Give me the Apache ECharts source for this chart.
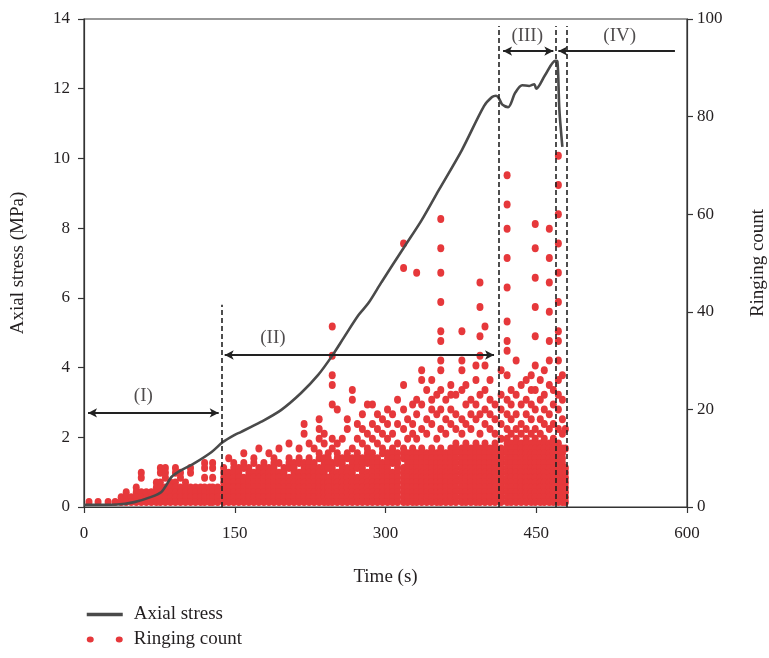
<!DOCTYPE html>
<html>
<head>
<meta charset="utf-8">
<script src="https://cdn.jsdelivr.net/npm/echarts@6/dist/echarts.min.js"></script>
<style>html,body{margin:0;padding:0;background:#fff}#c{width:769px;height:658px}</style>
</head>
<body>
<div id="c"></div>
<script>
// ---- Data ----
const xTicks = [0, 150, 300, 450, 600];
const stressTimes  = [0,33,50,67,77,82,87,97,110,127,138,150,156,176,196,216,233,246,259,273,283,296,318,336,353,376,398,406,410,413,416,422,429,436,443,448,450,459,469,471,473,476];
const stressValues = [0.06,0.07,0.14,0.29,0.43,0.63,0.86,1.06,1.26,1.58,1.86,2.07,2.15,2.44,2.78,3.27,3.79,4.3,4.88,5.5,5.85,6.45,7.43,8.23,9.09,10.24,11.5,11.76,11.8,11.72,11.55,11.47,11.88,12.1,12.08,12.13,12.0,12.4,12.8,12.79,11.4,10.33];

// Ringing count: each row = [time, count, count, ...]
const ringStageI = [
[5,1],[14,1],[24,1],[31,1],[37,2,1],[42,3,2,1],[47,2,1],[52,4,3,2,1],[57,7,6,3,2,1],[62,3,2,1],[67,3,2,1],
[72,5,4,3,2,1],[76,8,7,5,4,3,2,1],[81,8,7,6,4,3,2,1],[86,5,4,3,2,1],[91,8,7,5,4,3,2,1],[96,7,6,4,3,2,1],
[101,5,4,3,2,1],[106,8,7,4,3,2,1],[111,4,3,2,1],[116,4,3,2,1],[120,9,8,6,4,3,2,1],[125,4,3,2,1],
[128,9,8,6,4,3,2,1],[133,4,3,2,1]
];
const ringStageII = [
[139,8,7,6,5,4,3,2,1],[144,7,6,5,4,3,2,1,10],[149,9,8,7,6,5,4,3,2,1],[154,8,7,6,5,4,3,2,1],
[159,9,8,6,5,4,3,2,1,11],[164,8,7,6,5,4,3,2,1],[169,10,9,7,6,5,4,3,2,1],[174,8,7,6,5,4,3,2,1,12],
[179,9,8,7,6,5,4,3,2,1],[184,8,7,6,5,4,3,2,1,11],[189,10,9,8,7,6,5,4,3,2,1],[194,9,7,6,5,4,3,2,1,12],
[199,8,7,6,5,4,3,2,1],[204,10,9,8,6,5,4,3,2,1,13],[209,9,8,7,6,5,4,3,2,1],[214,10,9,7,6,5,4,3,2,1,12],
[219,9,8,7,6,5,4,3,2,1,15,17],[224,10,9,8,7,6,5,4,3,2,1,13],[229,9,8,7,6,5,4,3,2,1,12],
[234,11,10,8,7,6,5,4,3,2,1,14,16,18],[239,10,9,8,7,6,5,4,3,2,1,13,15],
[247,9,8,7,6,5,4,3,2,1,12,14,21,25,27,31,37],[243,11,10,9,8,6,5,4,3,2,1],
[252,11,10,9,7,6,5,4,3,2,1,13,20],[257,10,9,8,7,6,5,4,3,2,1,14],[262,11,10,8,7,6,5,4,3,2,1,16,18],
[267,10,9,8,7,6,5,4,3,2,1,12,22,24],[272,11,10,9,8,6,5,4,3,2,1,14,17],[277,10,9,8,7,6,5,4,3,2,1,13,16,19],
[282,12,11,10,9,7,6,5,4,3,2,1,15,21],[287,11,10,9,8,7,6,5,4,3,2,1,14,17,21],[292,10,9,8,7,6,5,4,3,2,1,13,16,19],
[297,12,11,9,8,7,6,5,4,3,2,1,15,18],[302,11,10,9,8,7,6,5,4,3,2,1,14,20,17],[307,12,11,10,9,7,6,5,4,3,2,1,15,19],
[312,11,10,9,8,7,6,5,4,3,2,1,13,17,22],[318,12,11,10,8,7,6,5,4,3,2,1,16,20,25,49,54],[322,11,10,9,8,7,6,5,4,3,2,1,14,18],
[327,12,11,10,9,8,7,6,5,4,3,2,1,15,21,17],[331,11,10,9,8,7,6,5,4,3,2,1,14,19,22,48],
[336,12,11,10,9,8,7,6,5,4,3,2,1,16,21,26,28],[341,11,10,9,8,7,6,5,4,3,2,1,15,18,24],
[346,12,11,10,9,8,7,6,5,4,3,2,1,17,20,26,22],[351,11,10,9,8,7,6,5,4,3,2,1,14,19,23],
[355,12,11,10,9,8,7,6,5,4,3,2,1,16,20,24,28,30,34,36,42,48,53,59],[360,11,10,9,8,7,6,5,4,3,2,1,15,18,22],
[365,12,11,10,9,8,7,6,5,4,3,2,1,17,20,23,25],[370,13,12,11,10,9,8,7,6,5,4,3,2,1,16,19,23],
[376,12,11,10,9,8,7,6,5,4,3,2,1,15,18,24,28,30,36],[380,13,12,11,10,9,8,7,6,5,4,3,2,1,17,21,25],
[385,12,11,10,9,8,7,6,5,4,3,2,1,16,19,22],[390,13,12,11,10,9,8,7,6,5,4,3,2,1,18,21,26,29],
[394,12,11,10,9,8,7,6,5,4,3,2,1,15,19,23,31,35,41,46],[399,13,12,11,10,9,8,7,6,5,4,3,2,1,17,20,24,29,37],
[404,12,11,10,9,8,7,6,5,4,3,2,1,16,19,22,26],[409,13,12,11,10,9,8,7,6,5,4,3,2,1,15,18,21]
];
const ringStageIII = [
[415,12,11,10,9,8,7,6,5,4,3,2,1,14,17,20,23,28],
[421,14,13,12,11,10,9,8,7,6,5,4,3,2,1,16,19,22,27,32,34,38,45,51,57,62,68],
[425,13,12,11,10,9,8,7,6,5,4,3,2,1,15,18,21,24],[430,14,13,12,11,10,9,8,7,6,5,4,3,2,1,16,19,23,30],
[435,13,12,11,10,9,8,7,6,5,4,3,2,1,15,17,21,25],[440,14,13,12,11,10,9,8,7,6,5,4,3,2,1,16,19,22,26],
[445,13,12,11,10,9,8,7,6,5,4,3,2,1,15,18,21,24,27],
[449,14,13,12,11,10,9,8,7,6,5,4,3,2,1,16,20,24,29,35,41,47,53,58],
[454,13,12,11,10,9,8,7,6,5,4,3,2,1,15,18,22,26],[458,14,13,12,11,10,9,8,7,6,5,4,3,2,1,17,20,23,28],
[463,13,12,11,10,9,8,7,6,5,4,3,2,1,16,19,25,30,34,40,46,51,57],[467,14,13,12,11,10,9,8,7,6,5,4,3,2,1,17,21,24],
[472,13,12,11,10,9,8,7,6,5,4,3,2,1,16,20,23,26,30,34,36,42,48,54,60,66,72],
[476,12,11,10,9,8,7,6,5,4,3,2,1,15,18,22,27],[479,8,7,6,5,4,3,2,1,12,16]
];

// Stage boundaries (time, s) and their dashed-line heights (MPa)
const stageBounds = [137, 413, 469, 480];
const stageBoundTops = [5.8, 13.8, 13.8, 13.8];
// Stage arrows: [startTime, endTime, stress level]
const stageArrows = [[4, 134, 2.7], [140, 408, 4.36], [417, 467, 13.08], [472, 588, 13.08]];
const stageNames = ['(I)', '(II)', '(III)', '(IV)'];
const stageLabelPos = [[59, 3.18], [188, 4.85], [441, 13.5], [533, 13.5]];

// ---- Build ----
const stressData = stressTimes.map((t, i) => [t, stressValues[i]]);
const ringData = [];
[ringStageI, ringStageII, ringStageIII].forEach(stage => stage.forEach(row => {
  for (let k = 1; k < row.length; k++) ringData.push([row[0], row[k]]);
}));

const FONT = '"Liberation Serif", "DejaVu Serif", serif';
const TXT = '#231f20';

const markLines = [];
stageBounds.forEach((t, i) => markLines.push([{coord: [t, 0]}, {coord: [t, stageBoundTops[i]]}]));
stageArrows.forEach((a, i) => markLines.push([
  {coord: [a[0], a[2]], symbol: 'arrow', symbolSize: [7, 9], lineStyle: {type: 'solid', width: 2, color: '#222'}},
  {coord: [a[1], a[2]], symbol: i === 3 ? 'none' : 'arrow', symbolSize: [7, 9]}
]));

const chart = echarts.init(document.getElementById('c'), null, {renderer: 'canvas'});
chart.setOption({
  animation: false,
  backgroundColor: '#fff',
  textStyle: {fontFamily: FONT, color: TXT},
  grid: {left: 84, right: 82, top: 19, bottom: 151, show: true, borderColor: '#333', borderWidth: 1.2,
         backgroundColor: 'transparent', containLabel: false, outerBoundsMode: 'none'},
  legend: {
    orient: 'vertical', left: 80, top: 600, itemWidth: 36, itemHeight: 7, itemGap: 6,
    textStyle: {fontFamily: FONT, fontSize: 19, color: TXT, padding: [0, 0, 0, 6]},
    data: [
      {name: 'Axial stress', itemStyle: {color: 'rgba(0,0,0,0)', borderWidth: 0}, lineStyle: {width: 3.5, color: '#4a4a4a'}},
      {name: 'Ringing count', icon: 'path://M0,3a3.5,3 0 1,0 7,0a3.5,3 0 1,0 -7,0zM29,3a3.5,3 0 1,0 7,0a3.5,3 0 1,0 -7,0z'}
    ]
  },
  xAxis: {
    type: 'value', min: xTicks[0], max: xTicks[xTicks.length - 1], interval: 150,
    name: 'Time (s)', nameLocation: 'middle', nameGap: 61,
    nameTextStyle: {fontFamily: FONT, fontSize: 19, color: TXT},
    axisLine: {lineStyle: {color: '#333', width: 1.2}},
    axisTick: {length: 6, lineStyle: {color: '#333', width: 1.2}},
    axisLabel: {fontFamily: FONT, fontSize: 17, color: TXT, margin: 18},
    splitLine: {show: false}
  },
  yAxis: [{
    type: 'value', min: 0, max: 14, interval: 2, position: 'left',
    name: 'Axial stress (MPa)', nameLocation: 'middle', nameGap: 56,
    nameTextStyle: {fontFamily: FONT, fontSize: 19, color: TXT},
    axisLine: {show: true, lineStyle: {color: '#333', width: 1.2}},
    axisTick: {show: true, length: 6, lineStyle: {color: '#333', width: 1.2}},
    axisLabel: {fontFamily: FONT, fontSize: 17, color: TXT, margin: 14},
    splitLine: {show: false}
  }, {
    type: 'value', min: 0, max: 100, interval: 20, position: 'right',
    name: 'Ringing count', nameLocation: 'middle', nameGap: 62,
    nameTextStyle: {fontFamily: FONT, fontSize: 19, color: TXT},
    axisLine: {show: true, lineStyle: {color: '#333', width: 1.2}},
    axisTick: {show: true, length: 6, lineStyle: {color: '#333', width: 1.2}},
    axisLabel: {fontFamily: FONT, fontSize: 17, color: TXT, margin: 10},
    splitLine: {show: false}
  }],
  series: [{
    name: 'Ringing count', type: 'scatter', yAxisIndex: 1, data: ringData,
    symbol: 'circle', symbolSize: [7, 8], itemStyle: {color: '#e6383b', opacity: 1}, silent: true, z: 2
  }, {
    name: 'Axial stress', type: 'line', yAxisIndex: 0, data: stressData,
    symbol: 'none', smooth: 0.3, lineStyle: {color: '#4a4a4a', width: 2.6}, itemStyle: {color: '#4a4a4a'}, z: 3,
    markLine: {
      silent: true, symbol: ['none', 'none'], label: {show: false}, animation: false,
      lineStyle: {color: '#222', width: 1.6, type: [5, 3]},
      data: markLines
    }
  }, {
    name: 'stage labels', type: 'scatter', yAxisIndex: 0, silent: true, z: 5,
    symbolSize: 1, itemStyle: {color: 'rgba(0,0,0,0)'},
    data: stageNames.map((n, i) => ({name: n, value: stageLabelPos[i]})),
    label: {show: true, position: 'inside', formatter: p => p.name, fontFamily: FONT, fontSize: 19, color: TXT}
  }]
});
</script>
</body>
</html>
